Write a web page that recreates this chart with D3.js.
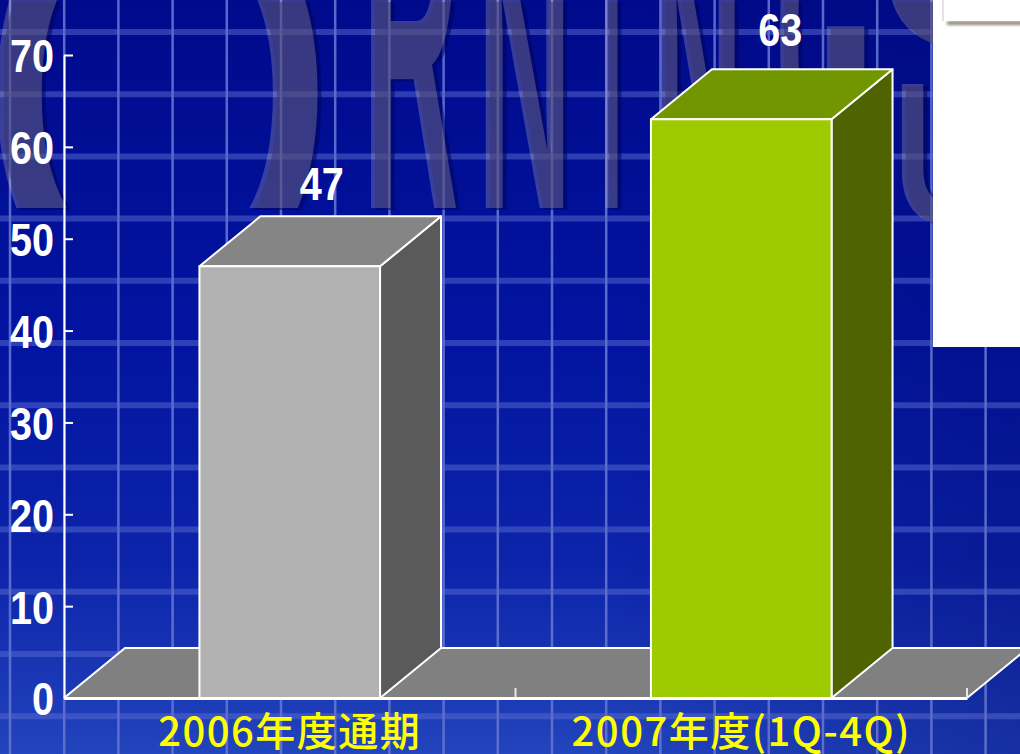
<!DOCTYPE html>
<html>
<head>
    <title>2006 - 2007</title>
    <script src="https://d3js.org/d3.v7.min.js"></script>
    <style>
        html, body { margin: 0; padding: 0; background: #000c90; overflow: hidden; }
        svg { display: block; }
        .num { font-family: "Liberation Sans", Arial, sans-serif; font-weight: 700; font-size: 47px; fill: #fff; }
        .cat { font-family: "Noto Sans CJK JP", sans-serif; font-weight: 500; font-size: 40px; fill: #ffff00; letter-spacing: 1.5px; }
    </style>
</head>
<body>
<div id="chart"></div>
<script>
const categories = ["2006年度通期", "2007年度(1Q-4Q)"];
const values = [47, 63];
const yTicks = [0, 10, 20, 30, 40, 50, 60, 70];
const watermark = ["O", "R", "N", "I", "N", "G", "S", "U"];

const W = 1020, H = 754;
const left = 64, right = 967, bottom = 698, top70 = 55;
const depthX = 61, depthY = 50;

const svg = d3.select("#chart").append("svg").attr("width", W).attr("height", H);
const defs = svg.append("defs");

// background
const bg = defs.append("linearGradient").attr("id", "bg").attr("x1", 0).attr("y1", 0).attr("x2", 0).attr("y2", 1);
bg.append("stop").attr("offset", "0%").attr("stop-color", "#000a8c");
bg.append("stop").attr("offset", "45%").attr("stop-color", "#0214a0");
bg.append("stop").attr("offset", "75%").attr("stop-color", "#0c24aa");
bg.append("stop").attr("offset", "100%").attr("stop-color", "#2244bc");
const bgSide = defs.append("linearGradient").attr("id", "bgSide");
bgSide.append("stop").attr("offset", "60%").attr("stop-color", "#000a70").attr("stop-opacity", 0);
bgSide.append("stop").attr("offset", "100%").attr("stop-color", "#000a70").attr("stop-opacity", 0.35);
svg.append("rect").attr("width", W).attr("height", H).attr("fill", "url(#bg)");
svg.append("rect").attr("width", W).attr("height", H).attr("fill", "url(#bgSide)");

// backdrop grid
for (let i = 0; i < 19; i++) {
    const gx = 10 + i * 54.2;
    svg.append("line").attr("x1", gx).attr("x2", gx).attr("y1", 0).attr("y2", H)
        .attr("stroke", "#6474d0").attr("stroke-width", 2.5).attr("opacity", 0.9);
}
for (let i = 0; i < 12; i++) {
    const gy = 32 + i * 62.2;
    svg.append("line").attr("x1", 0).attr("x2", W).attr("y1", gy).attr("y2", gy)
        .attr("stroke", "#5a6cd0").attr("stroke-width", 6).attr("opacity", 0.5);
}

// watermark letters, each cut off by its own band
const clips = { main: 208, low: 222, high: 62 };
Object.keys(clips).forEach(k => {
    defs.append("clipPath").attr("id", "wm-" + k).append("rect")
        .attr("x", 0).attr("y", 0).attr("width", 933).attr("height", clips[k]);
});
const wmLayout = [
    { x0: -25, x1: 340, size: 600, base: 302, weight: 400, clip: "main" },
    { x0: 362, x1: 460, size: 520, base: 215, weight: 700, clip: "main" },
    { x0: 477, x1: 572, size: 416, base: 215, weight: 700, clip: "main" },
    { x0: 600, x1: 623, size: 416, base: 215, weight: 700, clip: "main" },
    { x0: 653, x1: 743, size: 416, base: 215, weight: 700, clip: "main" },
    { x0: 775, x1: 872, size: 520, base: 215, weight: 700, clip: "main" },
    { x0: 872, x1: 1040, size: 416, base: 175, weight: 700, clip: "high" },
    { x0: 893, x1: 1000, size: 200, base: 222, weight: 700, clip: "low" }
];
function drawWatermark(dx, dy, fill, opacity) {
    const g = svg.append("g").attr("transform", `translate(${dx},${dy})`).attr("opacity", opacity);
    watermark.forEach((ch, i) => {
        const l = wmLayout[i];
        const t = g.append("g").attr("clip-path", `url(#wm-${l.clip})`).append("text").text(ch)
            .attr("font-family", "Liberation Sans").attr("font-weight", l.weight)
            .attr("font-size", l.size).attr("fill", fill);
        const b = t.node().getBBox();
        const sx = (l.x1 - l.x0) / b.width;
        t.attr("transform", `translate(${l.x0 - b.x * sx},${l.base}) scale(${sx},1)`);
    });
}
drawWatermark(4, 2, "#00045a", 0.55);
drawWatermark(0, 0, "#ffebbe", 0.22);

// scales
const x = d3.scaleBand().domain(categories).range([left, right]).paddingInner(0.6).paddingOuter(0.3);
const y = d3.scaleLinear().domain([0, 70]).range([bottom, top70]);

// floor
const floor = svg.append("g");
floor.append("path")
    .attr("d", `M${left},${bottom}L${left + depthX},${bottom - depthY}L${right + depthX},${bottom - depthY}L${right},${bottom}Z`)
    .attr("fill", "#808080");
floor.append("path")
    .attr("d", `M${left},${bottom}L${left + depthX},${bottom - depthY}L${right + depthX},${bottom - depthY}M${right},${bottom}L${right + depthX},${bottom - depthY}`)
    .attr("fill", "none").attr("stroke", "#fff").attr("stroke-width", 2);

// bars
const faces = [
    { front: "#b2b2b2", top: "#858585", side: "#5a5a5a" },
    { front: "#9ccc00", top: "#729600", side: "#4f6400" }
];
const bars = svg.selectAll(".bar").data(values).enter().append("g").attr("class", "bar");
bars.each(function (v, i) {
    const g = d3.select(this);
    const x0 = x(categories[i]), x1 = x0 + x.bandwidth(), yt = y(v);
    const st = (sel) => sel.attr("stroke", "#fff").attr("stroke-width", 2).attr("stroke-linejoin", "round");
    st(g.append("path").attr("fill", faces[i].side)
        .attr("d", `M${x1},${bottom}L${x1},${yt}L${x1 + depthX},${yt - depthY}L${x1 + depthX},${bottom - depthY}Z`));
    st(g.append("path").attr("fill", faces[i].top)
        .attr("d", `M${x0},${yt}L${x0 + depthX},${yt - depthY}L${x1 + depthX},${yt - depthY}L${x1},${yt}Z`));
    st(g.append("rect").attr("x", x0).attr("y", yt).attr("width", x1 - x0).attr("height", bottom - yt).attr("fill", faces[i].front));
});

// value labels
const labelShift = [[32, 66], [39, 73]];
const digitWidth = 22;
bars.append("text").attr("class", "num").attr("text-anchor", "middle")
    .attr("x", (d, i) => x(categories[i]) + x.bandwidth() / 2 + labelShift[i][0])
    .attr("y", (d, i) => y(d) - labelShift[i][1])
    .attr("textLength", d => String(d).length * digitWidth)
    .attr("lengthAdjust", "spacingAndGlyphs")
    .text(d => d);

// y axis, ticks point into the plot
const yAxis = svg.append("g").attr("transform", `translate(${left},0)`)
    .call(d3.axisLeft(y).tickValues(yTicks).tickSizeInner(-9).tickSizeOuter(0).tickPadding(10));
yAxis.selectAll("path, line").attr("stroke", "#fff").attr("stroke-width", 2);
yAxis.selectAll("text").attr("class", "num").attr("fill", null).attr("font-family", null).attr("font-size", null)
    .attr("dy", "0.36em")
    .attr("textLength", d => String(d).length * digitWidth)
    .attr("lengthAdjust", "spacingAndGlyphs");

// x axis
const xAxis = svg.append("g").attr("transform", `translate(0,${bottom})`)
    .call(d3.axisBottom(x).tickSize(0).tickPadding(20));
xAxis.select("path").attr("stroke", "#fff").attr("stroke-width", 3);
xAxis.selectAll("text").attr("class", "cat").attr("fill", null).attr("font-family", null).attr("font-size", null);
// category boundary ticks
[1, 2].forEach(i => {
    const tx = left + i * x.step();
    svg.append("line").attr("x1", tx).attr("x2", tx).attr("y1", bottom - 10).attr("y2", bottom)
        .attr("stroke", "#e8e8e8").attr("stroke-width", 2);
});

// pasted white panel on the right
const blur = defs.append("filter").attr("id", "soft").attr("x", "-10%").attr("y", "-50%").attr("width", "120%").attr("height", "200%");
blur.append("feGaussianBlur").attr("stdDeviation", 1.5);
svg.append("rect").attr("x", 933).attr("y", 0).attr("width", 87).attr("height", 347).attr("fill", "#fff");
svg.append("rect").attr("x", 947).attr("y", 21).attr("width", 80).attr("height", 4).attr("fill", "#8f887c").attr("filter", "url(#soft)");
svg.append("rect").attr("x", 943).attr("y", 0).attr("width", 80).attr("height", 21).attr("fill", "#fff");
svg.append("line").attr("x1", 943).attr("x2", 943).attr("y1", 0).attr("y2", 21).attr("stroke", "#c8c8c8");
</script>
</body>
</html>
